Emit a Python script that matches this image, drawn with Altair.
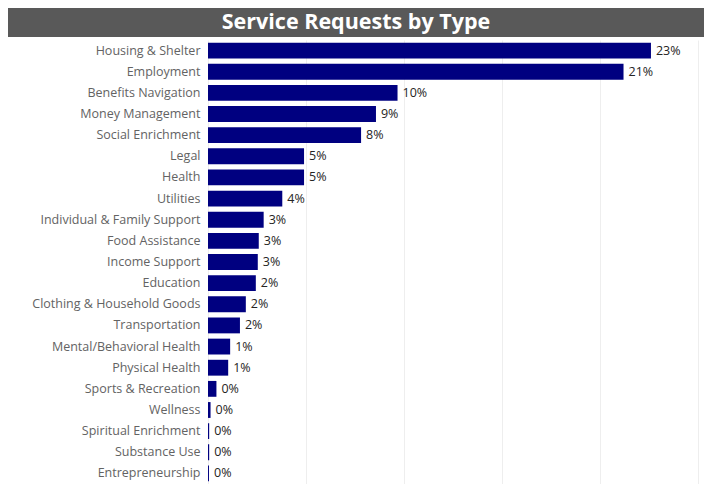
import altair as alt
import pandas as pd

categories = [
    "Housing & Shelter", "Employment", "Benefits Navigation", "Money Management",
    "Social Enrichment", "Legal", "Health", "Utilities", "Individual & Family Support",
    "Food Assistance", "Income Support", "Education", "Clothing & Household Goods",
    "Transportation", "Mental/Behavioral Health", "Physical Health", "Sports & Recreation",
    "Wellness", "Spiritual Enrichment", "Substance Use", "Entrepreneurship",
]
shares_pct = [22.6, 21.2, 9.67, 8.57, 7.81, 4.9, 4.9, 3.79, 2.84, 2.59, 2.54, 2.44,
              1.93, 1.63, 1.13, 1.03, 0.43, 0.13, 0.06, 0.06, 0.05]
grid_values = [0, 0.05, 0.10, 0.15, 0.20, 0.25]
title_text = ["Service Requests by Type"]

df = pd.DataFrame({"type": categories, "share": [v / 100 for v in shares_pct]})

FONT = "Open Sans"

y_enc = alt.Y(
    "type:N", sort=categories, title=None,
    scale=alt.Scale(paddingInner=0.25, paddingOuter=0.125),
    axis=alt.Axis(ticks=False, domain=False, labelFont=FONT, labelFontSize=12.5,
                  labelColor="#636363", labelPadding=8, grid=False),
)
x_enc = alt.X(
    "share:Q", title=None, scale=alt.Scale(domain=[0, 0.25]),
    axis=alt.Axis(values=grid_values, labels=False, ticks=False, domain=True,
                  domainColor="#eeeeee", gridColor="#eeeeee", grid=True),
)

bars = alt.Chart(df).mark_bar(color="#000080").encode(x=x_enc, y=y_enc)
labels = alt.Chart(df).mark_text(
    align="left", baseline="middle", dx=5, font=FONT, fontSize=12.5, color="#252423"
).encode(x=x_enc, y=y_enc, text=alt.Text("share:Q", format=".0%"))

tdf = pd.DataFrame({"t": title_text})
band = alt.Chart(tdf).mark_rect(color="#595959").encode(
    x=alt.value(-200), x2=alt.value(496), y=alt.value(-32), y2=alt.value(-3)
)
title = alt.Chart(tdf).mark_text(
    font=FONT, fontSize=21.5, fontWeight="bold", color="white", align="center", baseline="middle"
).encode(text="t:N", x=alt.value(148), y=alt.value(-17))

chart = alt.layer(bars, labels, band, title).properties(
    width=490, height=444,
    autosize=alt.AutoSizeParams(type="none"),
    padding={"left": 200, "top": 32, "right": 6, "bottom": 0},
).configure_view(stroke=None)

chart.save("out.html", embed_options={"renderer": "svg", "actions": False})
